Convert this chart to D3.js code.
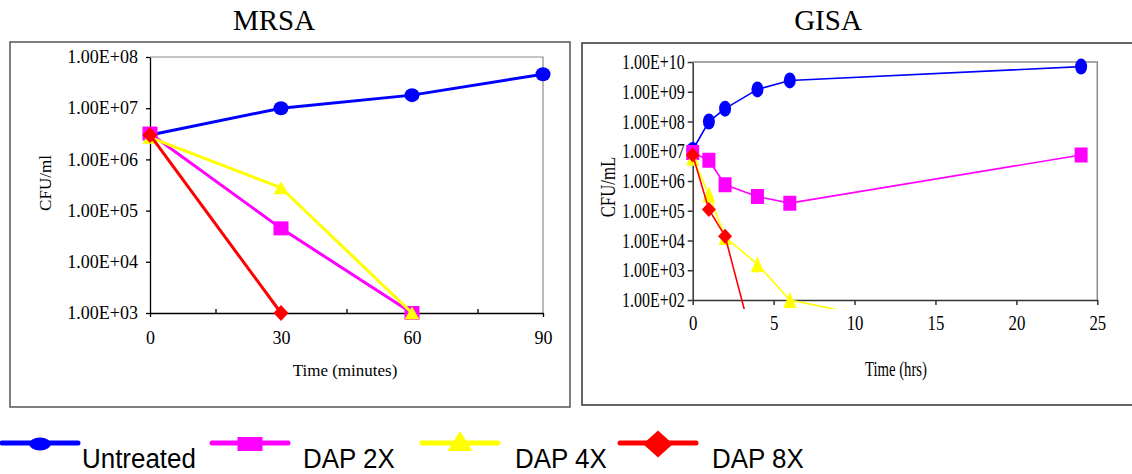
<!DOCTYPE html>
<html>
<head>
<meta charset="utf-8">
<script src="https://cdn.jsdelivr.net/npm/d3@7"></script>
<style>
  html, body { margin: 0; padding: 0; background: #fff; }
  svg { display: block; }
</style>
</head>
<body>
<div id="chart"></div>
<script>
// series names + colours
const seriesNames = ["Untreated", "DAP 2X", "DAP 4X", "DAP 8X"];
const seriesColors = ["#0000ff", "#ff00ff", "#ffff00", "#ff0000"];
const seriesShapes = ["circle", "square", "triangle", "diamond"];

// MRSA panel (minutes)
const mrsaTime = [0, 30, 60, 90];
const mrsaUntreated = [3.0e6, 1.0e7, 1.8e7, 4.6e7];
const mrsaDap2x = [3.2e6, 4.5e4, 1e3];
const mrsaDap4x = [2.7e6, 2.8e5, 1e3];
const mrsaDap8x = [3.0e6, 1e3];
const mrsaXTicks = [0, 30, 60, 90];
const mrsaXMinor = [15, 45, 75];
const mrsaYTicks = [1e3, 1e4, 1e5, 1e6, 1e7, 1e8];
const mrsaYLabels = ["1.00E+03", "1.00E+04", "1.00E+05", "1.00E+06", "1.00E+07", "1.00E+08"];

// GISA panel (hours)
const gisaTime = [0, 1, 2, 4, 6, 24];
const gisaUntreated = [1.1e7, 1.0e8, 2.7e8, 1.2e9, 2.4e9, 7.0e9];
const gisaDap2x = [9.0e6, 5.0e6, 7.5e5, 3.0e5, 1.8e5, 7.5e6];
const gisaDap4x = [6.0e6, 3.5e5, 1.3e4, 1.6e3, 1e2, 1];
const gisaDap8x = [7.5e6, 1.1e5, 1.4e4, 1];
const gisaXTicks = [0, 5, 10, 15, 20, 25];
const gisaYTicks = [1e2, 1e3, 1e4, 1e5, 1e6, 1e7, 1e8, 1e9, 1e10];
const gisaYLabels = ["1.00E+02", "1.00E+03", "1.00E+04", "1.00E+05", "1.00E+06",
                     "1.00E+07", "1.00E+08", "1.00E+09", "1.00E+10"];

const W = 1132, H = 474;
const serif = "'Liberation Serif', 'Times New Roman', serif";
const sans = "'Liberation Sans', Arial, sans-serif";

const svg = d3.select("#chart").append("svg")
  .attr("width", W).attr("height", H);

// unit shapes stretched to w x h
function shapePath(type, w, h) {
  const a = w / 2, b = h / 2;
  if (type === "circle") {
    return `M${-a},0 A${a},${b} 0 1,0 ${a},0 A${a},${b} 0 1,0 ${-a},0 Z`;
  }
  if (type === "square") return `M${-a},${-b} H${a} V${b} H${-a} Z`;
  if (type === "triangle") return `M0,${-b} L${a},${b} L${-a},${b} Z`;
  return `M0,${-b} L${a},0 L0,${b} L${-a},0 Z`;
}

function compress(sel, k) {
  sel.each(function () {
    const w = this.getComputedTextLength();
    d3.select(this).attr("textLength", w * k).attr("lengthAdjust", "spacingAndGlyphs");
  });
}

// ---------- MRSA ----------
svg.append("rect")
  .attr("x", 10).attr("y", 42).attr("width", 560).attr("height", 365)
  .attr("fill", "none").attr("stroke", "#555").attr("stroke-width", 1.5);

svg.append("text").attr("x", 274).attr("y", 30)
  .attr("text-anchor", "middle").attr("font-family", serif).attr("font-size", 29)
  .text("MRSA");

const mx = d3.scaleLinear().domain([0, 90]).range([150, 543]);
const my = d3.scaleLog().domain([1e3, 1e8]).range([313, 57]);

const mg = svg.append("g");
mg.append("path")
  .attr("d", `M${mx(0)},${my(1e8)} H${mx(90)} V${my(1e3)}`)
  .attr("fill", "none").attr("stroke", "#8c8c8c").attr("stroke-width", 1.2);

const myAxis = mg.append("g").attr("transform", `translate(${mx(0)},0)`)
  .call(d3.axisLeft(my).tickValues(mrsaYTicks)
    .tickFormat((d, i) => mrsaYLabels[i]).tickSize(4).tickSizeOuter(0).tickPadding(8));
myAxis.attr("font-family", serif).attr("font-size", 18);

const mxAxis = mg.append("g").attr("transform", `translate(0,${my(1e3)})`)
  .call(d3.axisBottom(mx).tickValues(mrsaXTicks).tickSize(4).tickSizeOuter(0).tickPadding(14));
mxAxis.attr("font-family", serif).attr("font-size", 18);
mg.append("g").attr("transform", `translate(0,${my(1e3)})`)
  .call(d3.axisBottom(mx).tickValues(mrsaXMinor).tickSize(-4).tickSizeOuter(0).tickFormat(""))
  .select(".domain").remove();
mg.selectAll(".domain, .tick line").attr("stroke", "#000").attr("stroke-width", 1.3);

mg.append("text")
  .attr("transform", `translate(45,183) rotate(-90)`)
  .attr("text-anchor", "middle").attr("dy", "0.35em")
  .attr("font-family", serif).attr("font-size", 17).text("CFU/ml");
mg.append("text").attr("x", 345).attr("y", 376)
  .attr("text-anchor", "middle").attr("font-family", serif).attr("font-size", 17)
  .text("Time (minutes)");

const mrsaSeries = [mrsaUntreated, mrsaDap2x, mrsaDap4x, mrsaDap8x];
const mrsaSizes = [[15, 14], [15, 14], [15, 13], [15, 16]];
mrsaSeries.forEach((vals, i) => {
  const pts = vals.map((v, j) => ({ t: mrsaTime[j], v }));
  mg.append("path").datum(pts)
    .attr("d", d3.line().x(d => mx(d.t)).y(d => my(d.v)))
    .attr("fill", "none").attr("stroke", seriesColors[i]).attr("stroke-width", 3);
  mg.selectAll(null).data(pts).enter().append("path")
    .attr("transform", d => `translate(${mx(d.t)},${my(d.v)})`)
    .attr("d", shapePath(seriesShapes[i], mrsaSizes[i][0], mrsaSizes[i][1]))
    .attr("fill", seriesColors[i]);
});

// ---------- GISA ----------
svg.append("rect")
  .attr("x", 582).attr("y", 43).attr("width", 560).attr("height", 362)
  .attr("fill", "none").attr("stroke", "#333").attr("stroke-width", 1.5);

svg.append("text").attr("x", 828).attr("y", 30)
  .attr("text-anchor", "middle").attr("font-family", serif).attr("font-size", 29)
  .text("GISA");

const gx = d3.scaleLinear().domain([0, 25]).range([692.7, 1097.3]);
const gy = d3.scaleLog().domain([1e2, 1e10]).range([300, 62]);

const gg = svg.append("g");
gg.append("path")
  .attr("d", `M${gx(0)},${gy(1e10)} H${gx(25)} V${gy(1e2)}`)
  .attr("fill", "none").attr("stroke", "#8c8c8c").attr("stroke-width", 1.5);

const gyAxis = gg.append("g").attr("transform", `translate(${gx(0)},0)`)
  .call(d3.axisLeft(gy).tickValues(gisaYTicks)
    .tickFormat((d, i) => gisaYLabels[i]).tickSize(5).tickSizeOuter(0).tickPadding(3));
gyAxis.attr("font-family", serif).attr("font-size", 21);
compress(gyAxis.selectAll("text"), 0.76);

const gxAxis = gg.append("g").attr("transform", `translate(0,${gy(1e2)})`)
  .call(d3.axisBottom(gx).tickValues(gisaXTicks).tickSize(5).tickSizeOuter(0).tickPadding(10));
gxAxis.attr("font-family", serif).attr("font-size", 21);
compress(gxAxis.selectAll("text"), 0.8);
gg.selectAll(".domain, .tick line").attr("stroke", "#333").attr("stroke-width", 1.5);

const gyl = gg.append("text")
  .attr("transform", `translate(608,187) rotate(-90)`)
  .attr("text-anchor", "middle").attr("dy", "0.35em")
  .attr("font-family", serif).attr("font-size", 21).text("CFU/mL");
compress(gyl, 0.8);
const gxl = gg.append("text").attr("x", 896).attr("y", 376)
  .attr("text-anchor", "middle").attr("font-family", serif).attr("font-size", 21)
  .text("Time (hrs)");
compress(gxl, 0.7);

svg.append("clipPath").attr("id", "gclip").append("rect")
  .attr("x", gx(0) - 12).attr("y", gy(1e10) - 12)
  .attr("width", gx(25) - gx(0) + 24).attr("height", gy(1e2) - gy(1e10) + 21);

const gisaSeries = [gisaUntreated, gisaDap2x, gisaDap4x, gisaDap8x];
const gisaSizes = [[12, 16], [13, 15], [13, 16], [14, 15]];
const gplot = gg.append("g").attr("clip-path", "url(#gclip)");
gisaSeries.forEach((vals, i) => {
  const pts = vals.map((v, j) => ({ t: gisaTime[j], v }));
  gplot.append("path").datum(pts)
    .attr("d", d3.line().x(d => gx(d.t)).y(d => gy(d.v)))
    .attr("fill", "none").attr("stroke", seriesColors[i]).attr("stroke-width", 1.6);
  gplot.selectAll(null).data(pts).enter().append("path")
    .attr("transform", d => `translate(${gx(d.t)},${gy(d.v)})`)
    .attr("d", shapePath(seriesShapes[i], gisaSizes[i][0], gisaSizes[i][1]))
    .attr("fill", seriesColors[i]);
});

// ---------- legend ----------
const legendLineX = [2, 212, 422, 620];
const legendTextX = [82, 303, 515, 712];
const legendSizes = [[22, 13], [25, 14], [25, 20], [30, 27]];
const legendY = 443;
const lg = svg.append("g");
seriesNames.forEach((name, i) => {
  const x0 = legendLineX[i];
  lg.append("line")
    .attr("x1", x0).attr("x2", x0 + 76).attr("y1", legendY).attr("y2", legendY)
    .attr("stroke", seriesColors[i]).attr("stroke-width", 5).attr("stroke-linecap", "round");
  lg.append("path")
    .attr("transform", `translate(${x0 + 38},${legendY + (i === 2 ? -2 : 1)})`)
    .attr("d", shapePath(seriesShapes[i], legendSizes[i][0], legendSizes[i][1]))
    .attr("fill", seriesColors[i]);
  const t = lg.append("text").attr("x", legendTextX[i]).attr("y", 468)
    .attr("font-family", sans).attr("font-size", 27).attr("fill", "#000")
    .text(name);
  compress(t, 0.96);
});
</script>
</body>
</html>
